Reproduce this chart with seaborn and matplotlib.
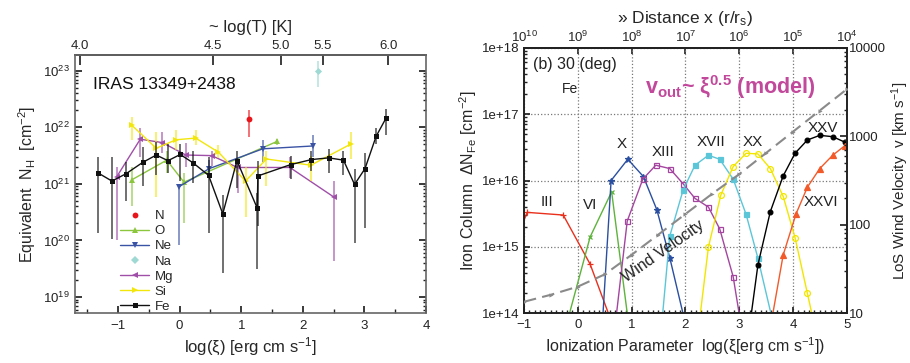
import numpy as np
import pandas as pd
import matplotlib
matplotlib.use("Agg")
import matplotlib.pyplot as plt
import seaborn as sns
from matplotlib.lines import Line2D
from matplotlib.ticker import LogLocator, FuncFormatter, NullFormatter, MultipleLocator

# ---------------- Left panel data: log(xi), log N_H, error bounds (log) ----------------
fe_xi = [-1.32, -1.10, -0.87, -0.60, -0.38, -0.19, 0.01, 0.22, 0.47, 0.70, 0.93, 1.26, 1.27, 1.80, 2.14, 2.42, 2.66, 2.84, 3.01, 3.19, 3.35]
fe_n = [21.19, 21.05, 21.18, 21.38, 21.51, 21.41, 21.52, 21.37, 21.15, 20.47, 21.41, 20.57, 21.14, 21.34, 21.43, 21.46, 21.42, 20.99, 21.27, 21.84, 22.16]
fe_hi = [21.47, 21.47, 21.39, 21.65, 21.74, 21.71, 21.71, 21.59, 21.47, 20.80, 21.59, 20.84, 21.40, 21.50, 21.59, 21.62, 21.59, 21.26, 21.54, 21.99, 22.33]
fe_lo = [20.13, 20.02, 20.70, 20.96, 21.15, 21.20, 21.05, 21.02, 20.13, 19.42, 20.93, 19.50, 20.25, 21.08, 21.23, 21.20, 21.16, 19.95, 20.22, 21.70, 21.86]

si_xi = [-0.78, -0.38, -0.06, 0.26, 0.63, 1.07, 1.41, 2.13, 2.79]
si_n = [22.04, 21.63, 21.78, 21.81, 21.56, 21.05, 21.44, 21.33, 21.71]
si_hi = [22.18, 21.92, 21.95, 21.95, 21.68, 21.30, 21.59, 21.50, 21.92]
si_lo = [21.77, 20.76, 21.60, 21.68, 21.45, 20.42, 20.96, 21.05, 21.44]

mg_xi = [-1.02, -0.64, -0.28, 0.10, 0.52, 0.94, 1.79, 2.50]
mg_n = [21.13, 21.79, 21.73, 21.51, 21.50, 21.29, 21.29, 20.77]
mg_hi = [21.29, 21.98, 21.92, 21.72, 21.59, 21.41, 21.47, 21.05]
mg_lo = [20.01, 21.47, 21.55, 21.30, 21.32, 20.84, 21.11, 19.63]

o_xi = [-0.78, -0.21, 0.07, 1.58]
o_n = [21.07, 21.42, 21.03, 21.75]
o_hi = [21.30, 21.59, 21.20, 21.80]
o_lo = [20.60, 21.20, 20.31, 21.68]

ne_xi = [-0.01, 0.48, 1.35, 2.16]
ne_n = [20.95, 21.27, 21.62, 21.67]
ne_hi = [21.00, 21.42, 21.77, 21.86]
ne_lo = [19.92, 21.12, 21.38, 21.47]

n_xi = [1.13]
n_n = [22.14]
n_hi = [22.30]
n_lo = [21.83]

na_xi = [2.25]
na_n = [23.00]
na_hi = [23.17]
na_lo = [22.72]

logT_labels = ["4.0", "4.5", "5.0", "5.5", "6.0"]
logT_at_xi = [-1.62, 0.54, 1.64, 2.32, 3.39]

# ---------------- Right panel data: log(xi), log column of Fe ions ----------------
iii_xi = [-1.2, -0.94, -0.27, 0.23, 0.62]
iii_n = [15.00, 15.52, 15.48, 14.74, 13.89]
vi_xi = [-0.2, 0.23, 0.63, 0.95]
vi_n = [13.86, 15.15, 15.83, 13.81]
x_xi = [0.45, 0.62, 0.93, 1.22, 1.47, 1.71, 2.00]
x_n = [13.74, 16.00, 16.32, 16.06, 15.56, 14.84, 13.85]
xiii_xi = [0.70, 0.92, 1.21, 1.45, 1.71, 1.96, 2.18, 2.43, 2.64, 2.89, 3.05]
xiii_n = [13.85, 15.39, 16.02, 16.23, 16.18, 15.95, 15.73, 15.60, 15.27, 14.55, 13.75]
xvii_xi = [1.55, 1.71, 1.96, 2.18, 2.43, 2.64, 2.89, 3.13, 3.35, 3.62]
xvii_n = [13.74, 15.16, 15.86, 16.23, 16.38, 16.32, 16.02, 15.49, 14.83, 13.90]
xx_xi = [2.25, 2.43, 2.66, 2.89, 3.13, 3.35, 3.58, 3.82, 4.04, 4.27, 4.40]
xx_n = [13.80, 15.00, 15.78, 16.21, 16.41, 16.40, 16.18, 15.76, 15.14, 14.30, 13.82]
xxv_xi = [3.2, 3.35, 3.58, 3.82, 4.04, 4.27, 4.50, 4.74, 4.96, 5.2]
xxv_n = [13.83, 14.73, 15.53, 16.07, 16.41, 16.61, 16.68, 16.66, 16.58, 16.50]
xxvi_xi = [3.6, 3.82, 4.06, 4.27, 4.50, 4.74, 4.96, 5.2]
xxvi_n = [13.87, 14.88, 15.50, 15.90, 16.18, 16.38, 16.52, 16.66]

wind_xi = [-1.0, -0.5, 0.0, 0.5, 1.0, 1.5, 2.0, 2.5, 3.0, 3.5, 4.0, 4.5, 5.0]
wind_v = [13.5, 16.2, 20.0, 27.5, 45.7, 77.6, 132, 224, 372, 646, 1122, 1950, 3390]

dist_labels = [r"$10^{10}$", r"$10^{9}$", r"$10^{8}$", r"$10^{7}$", r"$10^{6}$", r"$10^{5}$", r"$10^{4}$"]
dist_at_xi = [-1, 0, 1, 2, 3, 4, 5]

# ---------------- style ----------------
sns.set_theme(style="ticks")
plt.rcParams["font.family"] = ["Liberation Sans", "DejaVu Sans"]
plt.rcParams["mathtext.fontset"] = "custom"
plt.rcParams["mathtext.rm"] = "Liberation Sans"
plt.rcParams["mathtext.it"] = "Liberation Sans:italic"
plt.rcParams["mathtext.bf"] = "Liberation Sans:bold"

fig = plt.figure(figsize=(9.10, 3.63), dpi=100)
ax = fig.add_axes([0.0824, 0.1377, 0.3857, 0.7107])
ax2 = fig.add_axes([0.5758, 0.1369, 0.3546, 0.7317])

# ---------------- Left panel ----------------
series = [
    ("N", n_xi, n_n, n_lo, n_hi, "#e8151b", "o", False),
    ("O", o_xi, o_n, o_lo, o_hi, "#8cc63f", "^", True),
    ("Ne", ne_xi, ne_n, ne_lo, ne_hi, "#3a53a4", "v", True),
    ("Na", na_xi, na_n, na_lo, na_hi, "#9fd9d4", "D", False),
    ("Mg", mg_xi, mg_n, mg_lo, mg_hi, "#a04fa8", "<", True),
    ("Si", si_xi, si_n, si_lo, si_hi, "#f2e60c", ">", True),
    ("Fe", fe_xi, fe_n, fe_lo, fe_hi, "#111111", "s", True),
]
handles = []
for name, xs, ln, lo, hi, col, mk, line in series:
    xs = np.array(xs); ln = np.array(ln); lo = np.array(lo); hi = np.array(hi)
    y = 10 ** ln
    yerr = np.vstack([y - 10 ** lo, 10 ** hi - y])
    ax.errorbar(xs, y, yerr=yerr, fmt="none", ecolor=col, elinewidth=1.2, alpha=0.7, capsize=0)
    df = pd.DataFrame({"xi": xs, "N": y})
    msz = 3.6 if mk in ("s", "D") else 4.2
    if line:
        sns.lineplot(data=df, x="xi", y="N", ax=ax, color=col, marker=mk, markersize=msz,
                     markeredgewidth=0, linewidth=1.0, sort=False, estimator=None)
    else:
        sns.scatterplot(data=df, x="xi", y="N", ax=ax, color=col, marker=mk, s=msz ** 2, linewidth=0)
    handles.append(Line2D([], [], color=col, marker=mk, markersize=msz, markeredgewidth=0,
                          linewidth=1.0 if line else 0, label=name))

ax.set_yscale("log")
ax.set_xlim(-1.7, 4.0)
ax.set_ylim(5.2e18, 1.9e23)
ax.xaxis.set_major_locator(MultipleLocator(1))
ax.xaxis.set_minor_locator(MultipleLocator(0.5))
ax.yaxis.set_major_locator(LogLocator(base=10, numticks=10))
ax.yaxis.set_minor_locator(LogLocator(base=10, subs=np.arange(2, 10), numticks=20))
ax.yaxis.set_minor_formatter(NullFormatter())
ax.tick_params(axis="both", which="both", direction="in", right=True, top=False,
               labelsize=9.5, colors="#222222")
ax.tick_params(axis="y", which="major", length=5)
ax.tick_params(axis="y", which="minor", length=2.5)
ax.tick_params(axis="x", which="major", length=5, pad=5)
ax.tick_params(axis="x", which="minor", length=3)
for s in ax.spines.values():
    s.set_color("#666666")
    s.set_linewidth(1.2)
ax.set_xlabel("log(ξ) [erg cm s$^{-1}$]", fontsize=12, labelpad=3)
ax.set_ylabel(r"Equivalent  N$_\mathrm{H}$  [cm$^{-2}$]", fontsize=11.5, labelpad=4)
ax.text(0.05, 0.87, "IRAS 13349+2438", transform=ax.transAxes, fontsize=12.5, color="#111111")
top = ax.secondary_xaxis("top")
top.set_xticks(logT_at_xi, labels=logT_labels)
top.tick_params(direction="in", length=7, labelsize=9.5, pad=2)
top.set_xlabel("~ log(T) [K]", fontsize=12, labelpad=6)
ax.legend(handles=handles, loc="upper left", bbox_to_anchor=(0.11, 0.425), frameon=False,
          fontsize=9.5, handlelength=2.2, handletextpad=0.4, labelspacing=0.22, borderpad=0)

# ---------------- Right panel ----------------
ions = [
    ("III", iii_xi, iii_n, "#e8301c", "+", "full"),
    ("VI", vi_xi, vi_n, "#5db33b", "x", "full"),
    ("X", x_xi, x_n, "#2a4fa0", "*", "full"),
    ("XIII", xiii_xi, xiii_n, "#a445a0", "s", "none"),
    ("XVII", xvii_xi, xvii_n, "#5bc6d8", "s", "full"),
    ("XX", xx_xi, xx_n, "#f2e600", "o", "none"),
    ("XXV", xxv_xi, xxv_n, "#000000", "o", "full"),
    ("XXVI", xxvi_xi, xxvi_n, "#f25a2a", "^", "full"),
]
for name, xs, ln, col, mk, fill in ions:
    df = pd.DataFrame({"xi": xs, "N": 10 ** np.array(ln)})
    msz = {"s": 3.6, "o": 3.4, "^": 3.8, "*": 4.5, "+": 4.5, "x": 3.5}[mk]
    if mk == "o" and fill == "none":
        msz = 4.2
    kw = dict(markersize=msz, markeredgewidth=0.9, markeredgecolor=col)
    kw["markerfacecolor"] = "none" if fill == "none" else col
    sns.lineplot(data=df, x="xi", y="N", ax=ax2, color=col, marker=mk, linewidth=1.0,
                 sort=False, estimator=None, **kw)

ax2.set_yscale("log")
ax2.set_xlim(-1, 5)
ax2.set_ylim(1e14, 1e18)
ax2.xaxis.set_major_locator(MultipleLocator(1))
ax2.xaxis.set_minor_locator(MultipleLocator(0.1))
ax2.yaxis.set_major_locator(LogLocator(base=10, numticks=10))
ax2.yaxis.set_minor_locator(LogLocator(base=10, subs=np.arange(2, 10), numticks=20))
ax2.yaxis.set_minor_formatter(NullFormatter())
ax2.yaxis.set_major_formatter(FuncFormatter(lambda v, p: "1e+%d" % int(round(np.log10(v)))))
ax2.grid(True, which="major", linestyle=":", color="#777777", linewidth=0.9)
ax2.tick_params(axis="both", which="both", direction="in", labelsize=9.5, colors="#222222")
ax2.tick_params(axis="both", which="major", length=4)
ax2.tick_params(axis="both", which="minor", length=2)
ax2.tick_params(axis="x", pad=4)
for s in ax2.spines.values():
    s.set_color("#222222")
    s.set_linewidth(1.4)
ax2.set_xlabel("Ionization Parameter  log(ξ[erg cm s$^{-1}$])", fontsize=11.5, labelpad=3)
ax2.set_ylabel("Iron Column  ΔN$_\\mathrm{Fe}$ [cm$^{-2}$]", fontsize=11.5, labelpad=2)

axr = ax2.twinx()
wdf = pd.DataFrame({"xi": wind_xi, "v": wind_v})
sns.lineplot(data=wdf, x="xi", y="v", ax=axr, color="#8a8a8a", linestyle=(0, (6, 3)),
             linewidth=1.5, marker=">", markersize=3, markeredgewidth=0, sort=False, estimator=None)
axr.set_yscale("log")
axr.set_ylim(10, 10000)
axr.yaxis.set_major_formatter(FuncFormatter(lambda v, p: "%d" % int(round(v))))
axr.yaxis.set_minor_formatter(NullFormatter())
axr.tick_params(axis="y", which="both", direction="in", labelsize=9.5, colors="#222222", pad=2)
axr.tick_params(axis="y", which="major", length=5)
axr.tick_params(axis="y", which="minor", length=2.5)
axr.set_ylabel("LoS Wind Velocity  v [km s$^{-1}$]", fontsize=11, labelpad=2)
for s in axr.spines.values():
    s.set_visible(False)

top2 = ax2.secondary_xaxis("top")
top2.set_xticks(dist_at_xi, labels=dist_labels)
top2.tick_params(direction="in", length=4, labelsize=9.5, pad=2)
top2.set_xlabel("» Distance x (r/r$_\\mathrm{s}$)", fontsize=12.5, labelpad=5)

# ion labels
ion_labels = ["III", "VI", "X", "XIII", "XVII", "XX", "XXV", "XXVI"]
ion_lab_xi = [-0.58, 0.23, 0.82, 1.59, 2.47, 3.26, 4.56, 4.53]
ion_lab_n = [15.68, 15.63, 16.55, 16.43, 16.58, 16.58, 16.79, 15.68]
for t, xv, nv in zip(ion_labels, ion_lab_xi, ion_lab_n):
    ax2.text(xv, 10 ** nv, t, ha="center", va="center", fontsize=11, color="#222222")

ax2.text(-0.83, 10 ** 17.74, "(b) 30 (deg)", ha="left", va="center", fontsize=11.5, color="#222222")
ax2.text(-0.29, 10 ** 17.38, "Fe", ha="left", va="center", fontsize=10, color="#222222")
ax2.text(1.25, 10 ** 17.40, r"v$_{\mathbf{out}}$~ ξ$^{\mathbf{0.5}}$ (model)", ha="left", va="center",
         fontsize=15.5, fontweight="bold", color="#c2489c")
ax2.text(1.59, 10 ** 14.93, "Wind Velocity", ha="center", va="center", fontsize=11.5,
         rotation=35, color="#222222")

fig.savefig("out.png", dpi=100)
